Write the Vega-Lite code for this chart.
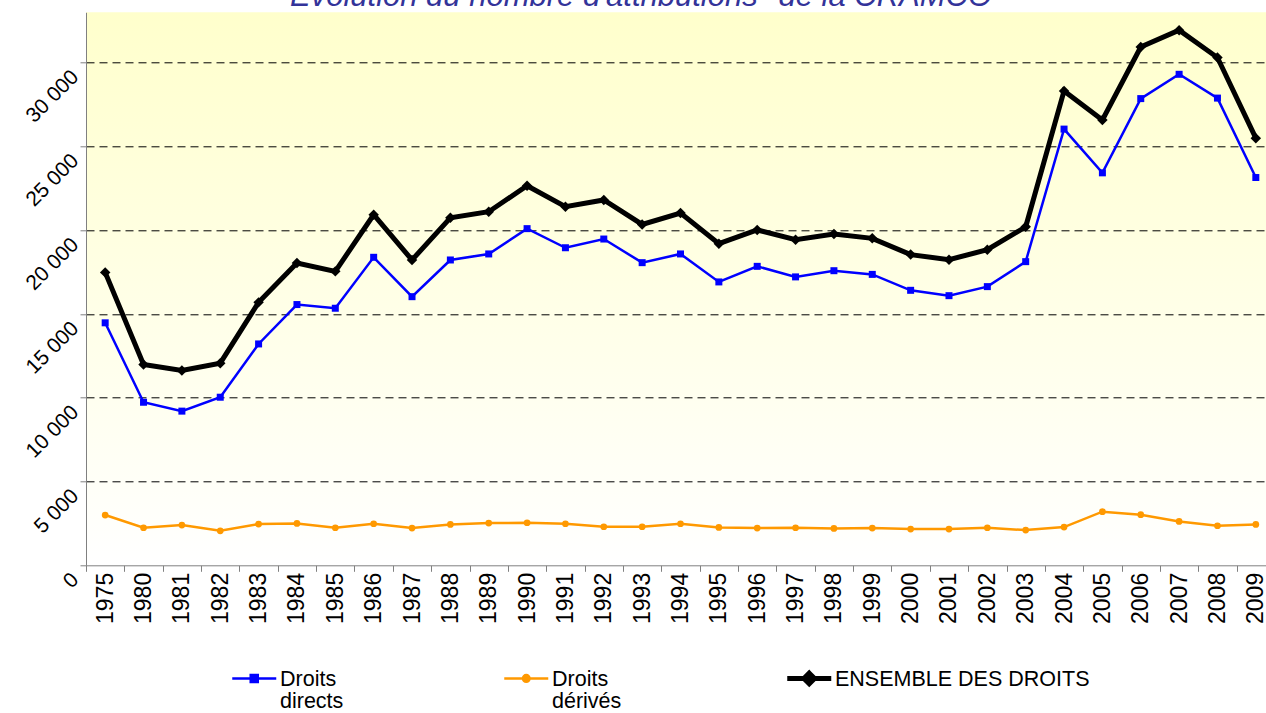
{
  "$schema": "https://vega.github.io/schema/vega-lite/v6.json",
  "autosize": "none",
  "padding": {"left": 86, "top": 12.3, "right": 0, "bottom": 147.7},
  "width": 1180,
  "height": 553,
  "background": "white",
  "config": {
    "font": "Liberation Sans",
    "view": {
      "stroke": null,
      "fill": {"gradient": "linear", "x1": 0, "y1": 0, "x2": 0, "y2": 1, "stops": [{"offset": 0, "color": "#FFFFCC"}, {"offset": 1, "color": "#FFFFFF"}]}
    }
  },
  "title": {
    "text": "Évolution du nombre d'attributions* de la CRAMCO",
    "font": "Liberation Sans",
    "fontStyle": "italic",
    "fontWeight": "normal",
    "fontSize": 31,
    "color": "#333399",
    "anchor": "middle",
    "dx": -35,
    "offset": -1
  },
  "data": {
    "values": [
      {"annee": "1975", "serie": "Droits directs", "valeur": 14470},
      {"annee": "1980", "serie": "Droits directs", "valeur": 9730},
      {"annee": "1981", "serie": "Droits directs", "valeur": 9200},
      {"annee": "1982", "serie": "Droits directs", "valeur": 10030},
      {"annee": "1983", "serie": "Droits directs", "valeur": 13210},
      {"annee": "1984", "serie": "Droits directs", "valeur": 15560},
      {"annee": "1985", "serie": "Droits directs", "valeur": 15340},
      {"annee": "1986", "serie": "Droits directs", "valeur": 18380},
      {"annee": "1987", "serie": "Droits directs", "valeur": 16030},
      {"annee": "1988", "serie": "Droits directs", "valeur": 18220},
      {"annee": "1989", "serie": "Droits directs", "valeur": 18580},
      {"annee": "1990", "serie": "Droits directs", "valeur": 20090},
      {"annee": "1991", "serie": "Droits directs", "valeur": 18950},
      {"annee": "1992", "serie": "Droits directs", "valeur": 19470},
      {"annee": "1993", "serie": "Droits directs", "valeur": 18060},
      {"annee": "1994", "serie": "Droits directs", "valeur": 18580},
      {"annee": "1995", "serie": "Droits directs", "valeur": 16910},
      {"annee": "1996", "serie": "Droits directs", "valeur": 17840},
      {"annee": "1997", "serie": "Droits directs", "valeur": 17210},
      {"annee": "1998", "serie": "Droits directs", "valeur": 17580},
      {"annee": "1999", "serie": "Droits directs", "valeur": 17360},
      {"annee": "2000", "serie": "Droits directs", "valeur": 16410},
      {"annee": "2001", "serie": "Droits directs", "valeur": 16090},
      {"annee": "2002", "serie": "Droits directs", "valeur": 16630},
      {"annee": "2003", "serie": "Droits directs", "valeur": 18120},
      {"annee": "2004", "serie": "Droits directs", "valeur": 26030},
      {"annee": "2005", "serie": "Droits directs", "valeur": 23420},
      {"annee": "2006", "serie": "Droits directs", "valeur": 27850},
      {"annee": "2007", "serie": "Droits directs", "valeur": 29300},
      {"annee": "2008", "serie": "Droits directs", "valeur": 27880},
      {"annee": "2009", "serie": "Droits directs", "valeur": 23140},
      {"annee": "1975", "serie": "Droits dérivés", "valeur": 3000},
      {"annee": "1980", "serie": "Droits dérivés", "valeur": 2240},
      {"annee": "1981", "serie": "Droits dérivés", "valeur": 2400},
      {"annee": "1982", "serie": "Droits dérivés", "valeur": 2060},
      {"annee": "1983", "serie": "Droits dérivés", "valeur": 2460},
      {"annee": "1984", "serie": "Droits dérivés", "valeur": 2500},
      {"annee": "1985", "serie": "Droits dérivés", "valeur": 2240},
      {"annee": "1986", "serie": "Droits dérivés", "valeur": 2480},
      {"annee": "1987", "serie": "Droits dérivés", "valeur": 2220},
      {"annee": "1988", "serie": "Droits dérivés", "valeur": 2440},
      {"annee": "1989", "serie": "Droits dérivés", "valeur": 2520},
      {"annee": "1990", "serie": "Droits dérivés", "valeur": 2540},
      {"annee": "1991", "serie": "Droits dérivés", "valeur": 2480},
      {"annee": "1992", "serie": "Droits dérivés", "valeur": 2300},
      {"annee": "1993", "serie": "Droits dérivés", "valeur": 2300},
      {"annee": "1994", "serie": "Droits dérivés", "valeur": 2480},
      {"annee": "1995", "serie": "Droits dérivés", "valeur": 2260},
      {"annee": "1996", "serie": "Droits dérivés", "valeur": 2220},
      {"annee": "1997", "serie": "Droits dérivés", "valeur": 2240},
      {"annee": "1998", "serie": "Droits dérivés", "valeur": 2200},
      {"annee": "1999", "serie": "Droits dérivés", "valeur": 2220},
      {"annee": "2000", "serie": "Droits dérivés", "valeur": 2160},
      {"annee": "2001", "serie": "Droits dérivés", "valeur": 2160},
      {"annee": "2002", "serie": "Droits dérivés", "valeur": 2240},
      {"annee": "2003", "serie": "Droits dérivés", "valeur": 2100},
      {"annee": "2004", "serie": "Droits dérivés", "valeur": 2280},
      {"annee": "2005", "serie": "Droits dérivés", "valeur": 3200},
      {"annee": "2006", "serie": "Droits dérivés", "valeur": 3020},
      {"annee": "2007", "serie": "Droits dérivés", "valeur": 2620},
      {"annee": "2008", "serie": "Droits dérivés", "valeur": 2360},
      {"annee": "2009", "serie": "Droits dérivés", "valeur": 2440},
      {"annee": "1975", "serie": "ENSEMBLE DES DROITS", "valeur": 17480},
      {"annee": "1980", "serie": "ENSEMBLE DES DROITS", "valeur": 11980},
      {"annee": "1981", "serie": "ENSEMBLE DES DROITS", "valeur": 11620},
      {"annee": "1982", "serie": "ENSEMBLE DES DROITS", "valeur": 12060},
      {"annee": "1983", "serie": "ENSEMBLE DES DROITS", "valeur": 15690},
      {"annee": "1984", "serie": "ENSEMBLE DES DROITS", "valeur": 18040},
      {"annee": "1985", "serie": "ENSEMBLE DES DROITS", "valeur": 17540},
      {"annee": "1986", "serie": "ENSEMBLE DES DROITS", "valeur": 20920},
      {"annee": "1987", "serie": "ENSEMBLE DES DROITS", "valeur": 18220},
      {"annee": "1988", "serie": "ENSEMBLE DES DROITS", "valeur": 20740},
      {"annee": "1989", "serie": "ENSEMBLE DES DROITS", "valeur": 21100},
      {"annee": "1990", "serie": "ENSEMBLE DES DROITS", "valeur": 22650},
      {"annee": "1991", "serie": "ENSEMBLE DES DROITS", "valeur": 21400},
      {"annee": "1992", "serie": "ENSEMBLE DES DROITS", "valeur": 21800},
      {"annee": "1993", "serie": "ENSEMBLE DES DROITS", "valeur": 20340},
      {"annee": "1994", "serie": "ENSEMBLE DES DROITS", "valeur": 21020},
      {"annee": "1995", "serie": "ENSEMBLE DES DROITS", "valeur": 19190},
      {"annee": "1996", "serie": "ENSEMBLE DES DROITS", "valeur": 20010},
      {"annee": "1997", "serie": "ENSEMBLE DES DROITS", "valeur": 19430},
      {"annee": "1998", "serie": "ENSEMBLE DES DROITS", "valeur": 19770},
      {"annee": "1999", "serie": "ENSEMBLE DES DROITS", "valeur": 19510},
      {"annee": "2000", "serie": "ENSEMBLE DES DROITS", "valeur": 18540},
      {"annee": "2001", "serie": "ENSEMBLE DES DROITS", "valeur": 18240},
      {"annee": "2002", "serie": "ENSEMBLE DES DROITS", "valeur": 18830},
      {"annee": "2003", "serie": "ENSEMBLE DES DROITS", "valeur": 20200},
      {"annee": "2004", "serie": "ENSEMBLE DES DROITS", "valeur": 28310},
      {"annee": "2005", "serie": "ENSEMBLE DES DROITS", "valeur": 26580},
      {"annee": "2006", "serie": "ENSEMBLE DES DROITS", "valeur": 30930},
      {"annee": "2007", "serie": "ENSEMBLE DES DROITS", "valeur": 31930},
      {"annee": "2008", "serie": "ENSEMBLE DES DROITS", "valeur": 30300},
      {"annee": "2009", "serie": "ENSEMBLE DES DROITS", "valeur": 25490}
    ]
  },
  "encoding": {
    "x": {
      "field": "annee",
      "type": "ordinal",
      "bandPosition": 0.5,
      "scale": {"type": "band", "paddingInner": 0, "paddingOuter": 0, "range": [0, 1189]},
      "axis": {
        "title": null,
        "labelAngle": -90,
        "labelFont": "Liberation Sans",
        "labelFontSize": 23,
        "labelColor": "black",
        "labelPadding": 1,
        "tickBand": "extent",
        "tickSize": 6,
        "tickColor": "#808080",
        "domainColor": "#808080",
        "grid": false
      }
    },
    "y": {
      "field": "valeur",
      "type": "quantitative",
      "scale": {"domain": [0, 33000], "nice": false},
      "axis": {
        "title": null,
        "values": [0, 5000, 10000, 15000, 20000, 25000, 30000],
        "labelExpr": "replace(format(datum.value, ','), ',', ' ')",
        "labelAngle": -45,
        "labelAlign": "right",
        "labelBaseline": "middle",
        "labelFont": "Liberation Sans",
        "labelFontSize": 21,
        "labelColor": "black",
        "labelPadding": 5,
        "labelOffset": 11,
        "tickSize": 6,
        "tickColor": "#808080",
        "domainColor": "#808080",
        "grid": true,
        "gridColor": "black",
        "gridDash": [8, 5],
        "gridOpacity": {"condition": {"test": "datum.value === 0", "value": 0}, "value": 1}
      }
    },
    "color": {
      "field": "serie",
      "type": "nominal",
      "scale": {"domain": ["Droits directs", "Droits dérivés", "ENSEMBLE DES DROITS"], "range": ["#0000FF", "#FF9900", "#000000"]},
      "legend": {
        "title": null,
        "orient": "none",
        "legendX": 157.5,
        "legendY": 655,
        "direction": "horizontal",
        "columns": 3,
        "columnPadding": 155,
        "padding": 0,
        "symbolSize": 1936,
        "labelFont": "Liberation Sans",
        "labelFontSize": 21.5,
        "labelColor": "black",
        "labelLimit": 400,
        "labelBaseline": "alphabetic",
        "labelExpr": "datum.label == 'ENSEMBLE DES DROITS' ? [datum.label, ''] : split(datum.label, ' ')",
        "encode": {
          "symbols": {
            "update": {
              "shape": {"signal": "datum.value == 'Droits directs' ? 'M-1,0H1M-0.16,-0.16H0.16V0.16H-0.16Z' : datum.value == 'Droits dérivés' ? 'M-1,0H1M0.15,0A0.15,0.15,0,1,1,-0.15,0A0.15,0.15,0,1,1,0.15,0Z' : 'M-1,0H1M0,-0.24L0.24,0L0,0.24L-0.24,0Z'"},
              "strokeWidth": {"signal": "datum.value == 'ENSEMBLE DES DROITS' ? 5 : 2.5"},
              "fill": {"signal": "datum.value == 'Droits directs' ? '#0000FF' : datum.value == 'Droits dérivés' ? '#FF9900' : '#000000'"},
              "stroke": {"signal": "datum.value == 'Droits directs' ? '#0000FF' : datum.value == 'Droits dérivés' ? '#FF9900' : '#000000'"},
              "size": {"value": 1936},
              "opacity": {"value": 1}
            }
          },
          "labels": {
            "update": {
              "dx": {"value": 11},
              "dy": {"value": 8},
              "lineHeight": {"value": 22}
            }
          }
        }
      }
    }
  },
  "layer": [
    {
      "transform": [{"filter": {"field": "serie", "equal": "Droits directs"}}],
      "mark": {"type": "line", "strokeWidth": 2.5, "strokeJoin": "miter"}
    },
    {
      "transform": [{"filter": {"field": "serie", "equal": "Droits directs"}}],
      "mark": {"type": "point", "shape": "square", "size": 49, "filled": true, "opacity": 1}
    },
    {
      "transform": [{"filter": {"field": "serie", "equal": "Droits dérivés"}}],
      "mark": {"type": "line", "strokeWidth": 2.5, "strokeJoin": "miter"}
    },
    {
      "transform": [{"filter": {"field": "serie", "equal": "Droits dérivés"}}],
      "mark": {"type": "point", "shape": "circle", "size": 45, "filled": true, "opacity": 1}
    },
    {
      "transform": [{"filter": {"field": "serie", "equal": "ENSEMBLE DES DROITS"}}],
      "mark": {"type": "line", "strokeWidth": 5, "strokeJoin": "miter"}
    },
    {
      "transform": [{"filter": {"field": "serie", "equal": "ENSEMBLE DES DROITS"}}],
      "mark": {"type": "point", "shape": "diamond", "size": 110, "filled": true, "opacity": 1}
    }
  ]
}
